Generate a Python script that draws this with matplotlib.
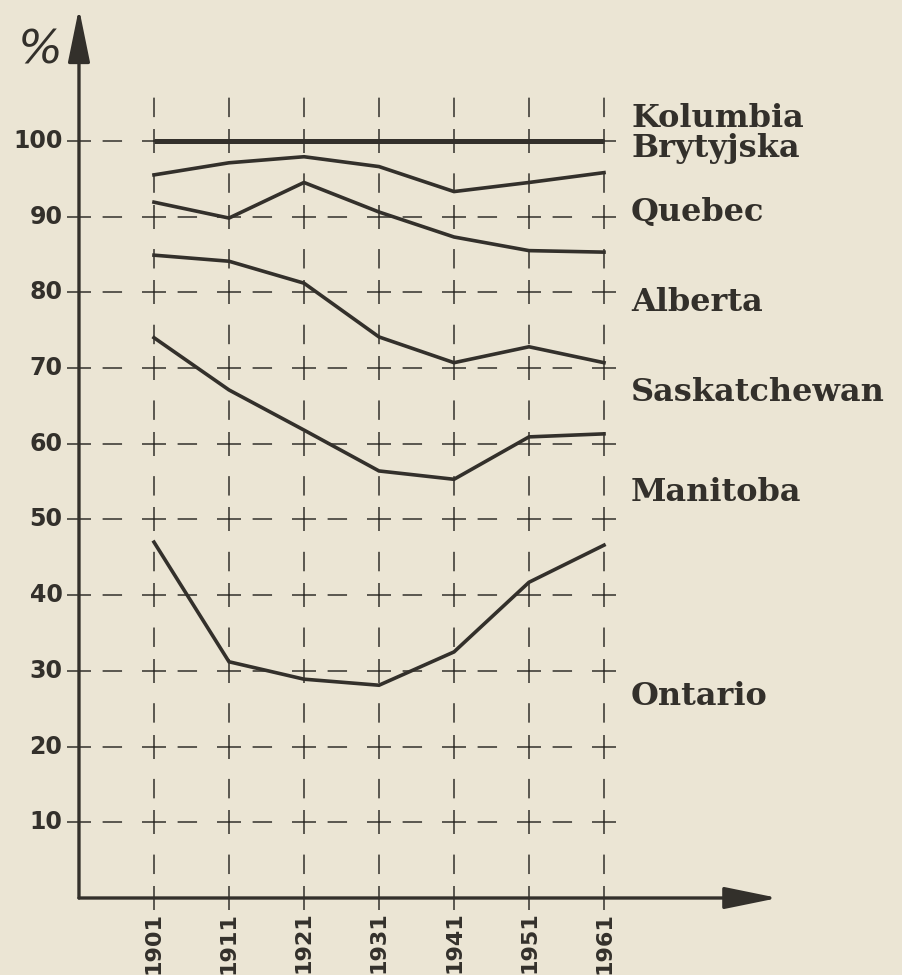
import matplotlib
matplotlib.use("Agg")
import matplotlib.pyplot as plt

plt.rcParams['lines.scale_dashes'] = False

# -------------------------
# Data
# -------------------------
years = [1901, 1911, 1921, 1931, 1941, 1951, 1961]
y_ticks = [10, 20, 30, 40, 50, 60, 70, 80, 90, 100]

line_a = [100, 100, 100, 100, 100, 100, 100]
line_b = [95.5, 97.1, 97.9, 96.6, 93.3, 94.5, 95.8]
line_c = [91.9, 89.8, 94.5, 90.6, 87.3, 85.5, 85.3]
line_d = [84.9, 84.1, 81.2, 74.1, 70.7, 72.8, 70.7]
line_e = [74.0, 67.1, 61.8, 56.4, 55.3, 60.9, 61.3]
line_f = [47.0, 31.2, 28.9, 28.1, 32.5, 41.7, 46.6]

province_labels = ["Kolumbia\nBrytyjska", "Quebec", "Alberta",
                   "Saskatchewan", "Manitoba", "Ontario"]
label_y = [101.0, 90.5, 78.6, 66.7, 53.5, 26.6]

ink = "#33302b"
paper = "#ebe5d4"

fig = plt.figure(figsize=(9.02, 9.75), dpi=100, facecolor=paper)
ax = fig.add_axes([0, 0, 1, 1])
ax.set_facecolor(paper)
ax.set_xlim(1880.47, 2000.73)
ax.set_ylim(-10.17, 118.6)
ax.axis('off')

x0 = 1891  # where the y axis stands

# -------- dashed grid with crosses --------
# one dash in the middle of every cell, crosses at the nodes
for yr in years:
    ax.plot([yr, yr], [0, 108], color=ink, lw=1.1,
            linestyle=(37.25, (14, 40.5)), zorder=1)
    ax.plot([yr] * (len(y_ticks) + 1), [0] + y_ticks, ls='none', marker='+',
            ms=17, mew=1.1, color=ink, zorder=1)
for v in y_ticks:
    ax.plot([x0, years[-1]], [v, v], color=ink, lw=1.1,
            linestyle=(37.0, (14, 40)), zorder=1)
    ax.plot([x0], [v], ls='none', marker='+', ms=17, mew=1.1,
            color=ink, zorder=1)

# -------- series --------
ax.plot(years, line_a, color=ink, lw=3.6, solid_capstyle='butt', zorder=3)
for s in [line_b, line_c, line_d, line_e, line_f]:
    ax.plot(years, s, color=ink, lw=2.6, solid_joinstyle='miter', zorder=3)

# -------- axes with arrows --------
ax.annotate('', xy=(1984.2, 0), xytext=(x0, 0),
            arrowprops=dict(arrowstyle='-|>,head_length=2.2,head_width=0.45',
                            lw=2.4, color=ink, mutation_scale=15,
                            shrinkA=0, shrinkB=0), zorder=4)
ax.annotate('', xy=(x0, 117.5), xytext=(x0, 0),
            arrowprops=dict(arrowstyle='-|>,head_length=2.2,head_width=0.45',
                            lw=2.4, color=ink, mutation_scale=15,
                            shrinkA=0, shrinkB=0), zorder=4)

# -------- text --------
ax.text(1885.8, 111.8, "%", fontsize=34, color=ink, ha='center', va='center',
        family='DejaVu Sans', style='italic')
for v in y_ticks:
    ax.text(1888.8, v, str(v), fontsize=17, fontweight='bold', color=ink,
            ha='right', va='center', family='DejaVu Sans')
for yr in years:
    ax.text(yr, -1.8, str(yr), fontsize=16, fontweight='bold', color=ink,
            rotation=90, ha='center', va='top', family='DejaVu Sans')

for lab, ly in zip(province_labels, label_y):
    ax.text(1964.6, ly, lab, fontsize=23, fontweight='bold', color=ink,
            ha='left', va='center', family='DejaVu Serif', linespacing=0.95)

fig.savefig("out.png", dpi=100, facecolor=paper)
